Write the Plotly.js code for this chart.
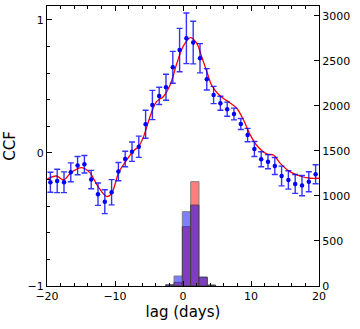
<!DOCTYPE html>
<html>
<head>
<meta charset="utf-8">
<script src="https://cdn.plot.ly/plotly-3.0.1.min.js"></script>
<style>
    html, body { margin:0; padding:0; background:#ffffff; }
    #ccfChart { width:360px; height:329px; }
</style>
</head>
<body>
<div id="ccfChart"></div>
<script>

/* ==========================================
   DATA
========================================== */

// CCF points (lag in days) with errors
const lagDays = [
    -19.5, -18.5, -17.5, -16.5, -15.5, -14.5, -13.5, -12.5, -11.5, -10.5,
    -9.5, -8.5, -7.5, -6.5, -5.5, -4.5, -3.5, -2.5, -1.5, -0.5,
    0.5, 1.5, 2.5, 3.5, 4.5, 5.5, 6.5, 7.5, 8.5, 9.5,
    10.5, 11.5, 12.5, 13.5, 14.5, 15.5, 16.5, 17.5, 18.5, 19.5
];

const ccfValues = [
    -0.22, -0.21, -0.22, -0.145, -0.095, -0.085, -0.20, -0.31, -0.366, -0.295,
    -0.14, -0.045, 0.01, 0.047, 0.216, 0.361, 0.429, 0.494, 0.644, 0.774,
    0.862, 0.83, 0.712, 0.554, 0.436, 0.374, 0.329, 0.293, 0.218, 0.135,
    0.03, -0.047, -0.065, -0.098, -0.173, -0.203, -0.233, -0.245, -0.216, -0.16
];

const ccfErrors = [
    0.075, 0.088, 0.078, 0.071, 0.069, 0.066, 0.069, 0.084, 0.09, 0.095,
    0.069, 0.058, 0.073, 0.08, 0.105, 0.11, 0.065, 0.098, 0.12, 0.163,
    0.19, 0.16, 0.11, 0.08, 0.065, 0.053, 0.053, 0.044, 0.041, 0.05,
    0.056, 0.056, 0.053, 0.064, 0.074, 0.069, 0.071, 0.076, 0.075, 0.071
];

// smooth model curve
const modelLag = [
    -20, -18.6, -17.6, -16.4, -14.9, -13.7, -12.5, -11.2, -10.5, -9.4,
    -8.2, -7.3, -6.5, -5.8, -4.85, -3.9, -2.9, -1.9, -0.9, 0,
    1.1, 2.0, 2.75, 3.5, 4.2, 5.0, 5.9, 6.9, 7.9, 8.9,
    9.85, 10.8, 11.8, 12.5, 13.3, 14.3, 15.7, 17.2, 18.7, 20
];

const modelCcf = [
    -0.198, -0.173, -0.203, -0.145, -0.11, -0.148, -0.253, -0.328, -0.303, -0.14,
    -0.047, 0.015, 0.05, 0.123, 0.273, 0.386, 0.423, 0.511, 0.674, 0.80,
    0.867, 0.825, 0.724, 0.611, 0.511, 0.453, 0.411, 0.378, 0.336, 0.248,
    0.14, 0.06, 0.01, -0.01, -0.015, -0.078, -0.14, -0.173, -0.19, -0.19
];

// lag distributions (right axis)
const binCenters = [-1.93, -0.71, 0.51, 1.74, 2.96, 4.18];
const redCounts  = [10, 40, 658, 1158, 96, 10];
const blueCounts = [15, 111, 825, 899, 100, 10];

const leftTicks  = [-1, 0, 1];
const rightTicks = [0, 500, 1000, 1500, 2000, 2500, 3000];
const xTicks     = [-20, -10, 0, 10, 20];


/* ==========================================
   DRAW
========================================== */

function drawCcf(){

    const font = { family:"DejaVu Sans", size:11, color:"#000000" };

    const binWidth = 1.22;

    Plotly.newPlot(

        "ccfChart",

        [

            {
                x:binCenters,
                y:redCounts,
                type:"bar",
                yaxis:"y2",
                width:binWidth,
                opacity:0.5,
                marker:{
                    color:"#ff0000",
                    line:{ color:"#000000", width:1 }
                },
                hoverinfo:"skip"
            },

            {
                x:binCenters,
                y:blueCounts,
                type:"bar",
                yaxis:"y2",
                width:binWidth,
                opacity:0.5,
                marker:{
                    color:"#0000ff",
                    line:{ color:"#000000", width:1 }
                },
                hoverinfo:"skip"
            },

            {
                x:modelLag,
                y:modelCcf,
                mode:"lines",
                line:{ color:"#ff0000", width:1.3, shape:"spline", smoothing:1 },
                hoverinfo:"skip"
            },

            {
                x:lagDays,
                y:ccfValues,
                mode:"markers",
                marker:{ color:"#0000ff", size:4.5 },
                error_y:{
                    type:"data",
                    array:ccfErrors,
                    visible:true,
                    color:"rgba(0,0,255,0.8)",
                    thickness:1.4,
                    width:3
                }
            }

        ],

        {

            width:360,

            height:329,

            showlegend:false,

            barmode:"overlay",

            bargap:0,

            paper_bgcolor:"#ffffff",

            plot_bgcolor:"#ffffff",

            font:font,

            margin:{ l:47, r:41, t:6, b:43 },

            xaxis:{
                range:[-20, 20],
                tickvals:xTicks,
                ticks:"inside",
                ticklen:5,
                tickwidth:1,
                tickcolor:"#000000",
                minor:{ ticks:"inside", dtick:2, ticklen:3, tickcolor:"#000000" },
                showline:true,
                linecolor:"#000000",
                linewidth:1,
                mirror:"ticks",
                showgrid:false,
                zeroline:false,
                tickfont:font,
                title:{ text:"lag (days)", font:{ family:"DejaVu Sans", size:15 }, standoff:4 }
            },

            yaxis:{
                range:[-1, 1.105],
                tickvals:leftTicks,
                ticks:"inside",
                ticklen:5,
                tickcolor:"#000000",
                minor:{ ticks:"inside", dtick:0.2, ticklen:3, tickcolor:"#000000" },
                showline:true,
                linecolor:"#000000",
                linewidth:1,
                showgrid:false,
                zeroline:false,
                tickfont:font,
                title:{ text:"CCF", font:{ family:"DejaVu Sans", size:15 }, standoff:8 }
            },

            yaxis2:{
                overlaying:"y",
                side:"right",
                range:[0, 3108],
                tickvals:rightTicks,
                ticks:"inside",
                ticklen:5,
                tickcolor:"#000000",
                showline:true,
                linecolor:"#000000",
                linewidth:1,
                showgrid:false,
                zeroline:false,
                tickfont:font
            }

        },

        {
            displayModeBar:false,
            staticPlot:true
        }

    );

}

drawCcf();

</script>
</body>
</html>
